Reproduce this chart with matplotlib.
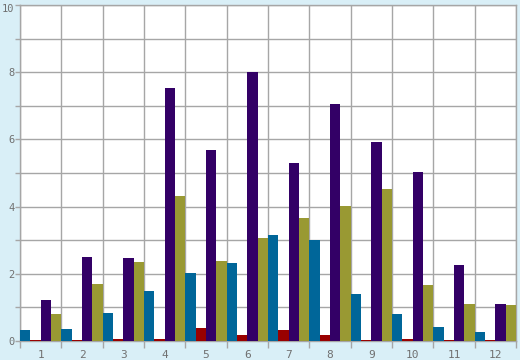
import matplotlib
matplotlib.use("Agg")
import matplotlib.pyplot as plt
import matplotlib.transforms as mtransforms
import numpy as np

months = [str(i) for i in range(1, 13)]
teal_vals = [0.32, 0.35, 0.84, 1.48, 2.03, 2.32, 3.16, 3.00, 1.39, 0.80, 0.41, 0.26]
red_vals = [0.02, 0.02, 0.05, 0.05, 0.38, 0.17, 0.32, 0.17, 0.02, 0.05, 0.02, 0.02]
purple_vals = [1.21, 2.51, 2.48, 7.54, 5.69, 8.02, 5.30, 7.06, 5.93, 5.03, 2.26, 1.10]
olive_vals = [0.80, 1.70, 2.36, 4.32, 2.38, 3.07, 3.66, 4.02, 4.53, 1.66, 1.10, 1.07]

series = [teal_vals, red_vals, purple_vals, olive_vals]
colors = ["#006699", "#990000", "#330066", "#999933"]

bg = "#d9eff7"
grid_c = "#a6a6a6"
text_c = "#707070"

fig = plt.figure(figsize=(5.2, 3.6), dpi=100, facecolor=bg)
ax = fig.add_axes([20 / 520, 19.3 / 360, 496 / 520, 335.4 / 360])
ax.set_facecolor("white")

n = len(months)
w = 1 / 4
x = np.arange(n)
for i, (vals, c) in enumerate(zip(series, colors)):
    ax.bar(x + i * w, vals, width=w, align="edge", color=c, linewidth=0, zorder=3)

ax.set_xlim(0, n)
ax.set_ylim(0, 10)

# group boundaries as major ticks, labels at centres
ax.set_xticks(np.arange(n + 1))
ax.set_xticklabels([])
ax.set_xticks(x + 0.5, minor=True)
ax.set_xticklabels(months, minor=True)
ax.tick_params(axis="x", which="major", length=5, width=1, color=grid_c, direction="out")
ax.tick_params(axis="x", which="minor", length=0, pad=7, labelsize=8, labelcolor=text_c)

ax.set_yticks(np.arange(0, 11, 2))
ax.set_yticks(np.arange(1, 10, 2), minor=True)
ax.tick_params(axis="y", which="both", length=3.5, width=1, color=grid_c, direction="out",
               pad=0.5, labelsize=7.5, labelcolor=text_c)

ax.grid(True, axis="y", which="both", color=grid_c, linewidth=1, zorder=0)
ax.grid(True, axis="x", which="major", color=grid_c, linewidth=1, zorder=0)
for s in ax.spines.values():
    s.set_color(grid_c)
    s.set_linewidth(1)

for lbl in ax.get_xticklabels(minor=True) + ax.get_yticklabels():
    lbl.set_family("DejaVu Sans Mono")

# nudge the top label down a little so it stays inside the figure
top = ax.get_yticklabels()[-1]
top.set_transform(top.get_transform() + mtransforms.ScaledTranslation(0, -2 / 72, fig.dpi_scale_trans))

fig.savefig("out.png", dpi=100, facecolor=bg)
